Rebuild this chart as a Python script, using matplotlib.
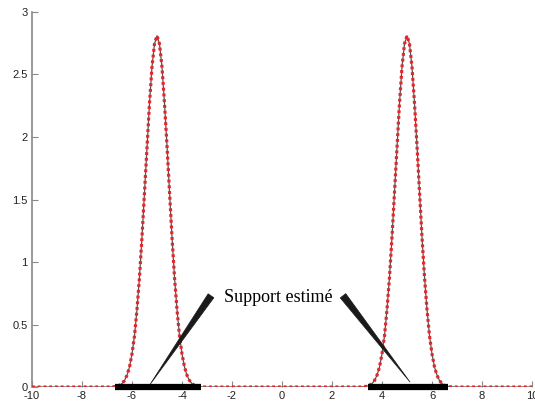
import numpy as np
import matplotlib.pyplot as plt
from matplotlib.ticker import FormatStrFormatter

plt.rcParams['axes.unicode_minus'] = False

# Density estimate: two identical bumps, profile
centres = [-5.0, 5.0]
# heights at offsets 0, 0.1, ..., 1.8 from each centre (symmetric)
profile = [2.81, 2.745, 2.56, 2.27, 1.93, 1.56, 1.20, 0.88, 0.62, 0.41,
           0.265, 0.16, 0.094, 0.052, 0.027, 0.014, 0.007, 0.003, 0.001]

# estimated supports (thick black bars on the axis)
supports = [(-6.68, -3.22), (3.42, 6.62)]
label = 'Support estimé'
label_pos = (-0.16, 0.72)
arrow_tails = [(-2.84, 0.73), (2.44, 0.73)]
arrow_tips = [(-5.28, 0.02), (5.12, 0.04)]

xticks = np.arange(-10, 11, 2)
yticks = np.arange(0, 3.01, 0.5)

# sample grid (step 0.1) and values placed from the profile
x = np.round(np.arange(-100, 101) / 10.0, 1)
y = np.zeros_like(x)
for c in centres:
    for k, v in enumerate(profile):
        for s in (-1, 1):
            idx = np.where(np.isclose(x, c + s * k / 10.0))[0]
            y[idx] = v

fig = plt.figure(figsize=(5.35, 4.05), dpi=100)
ax = fig.add_axes([0.0598, 0.0444, 0.9346, 0.926])

ax.plot(x, y, color='#555555', lw=0.9, zorder=2)
ax.plot(x, y, color='#e3262a', lw=2.3, ls=(0, (0.9, 0.9)), zorder=3)

for a, b in supports:
    ax.plot([a, b], [0, 0], color='black', lw=4.5, solid_capstyle='butt',
            zorder=4, clip_on=False)

ax.text(label_pos[0], label_pos[1], label, fontsize=13,
        family='Liberation Serif', ha='center', va='center')
for tail, tip in zip(arrow_tails, arrow_tips):
    ax.annotate('', xy=tip, xytext=tail,
                arrowprops=dict(arrowstyle='wedge,tail_width=0.5,shrink_factor=0.5',
                                color='#1a1a1a', shrinkA=0, shrinkB=0, lw=0.5),
                zorder=5)

ax.set_xlim(-10, 10)
ax.set_ylim(0, 3)
ax.set_xticks(xticks)
ax.set_yticks(yticks)
ax.yaxis.set_major_formatter(FormatStrFormatter('%g'))
for s in ['top', 'right', 'bottom']:
    ax.spines[s].set_visible(False)
ax.spines['left'].set_color('#888888')
ax.spines['left'].set_linewidth(1.2)
ax.tick_params(direction='in', length=4, width=0.8, color='#888888',
               labelsize=8, labelcolor='#222222', pad=3)
for t in ax.get_xticklabels() + ax.get_yticklabels():
    t.set_family('Liberation Sans')

fig.savefig('out.png', dpi=100)
